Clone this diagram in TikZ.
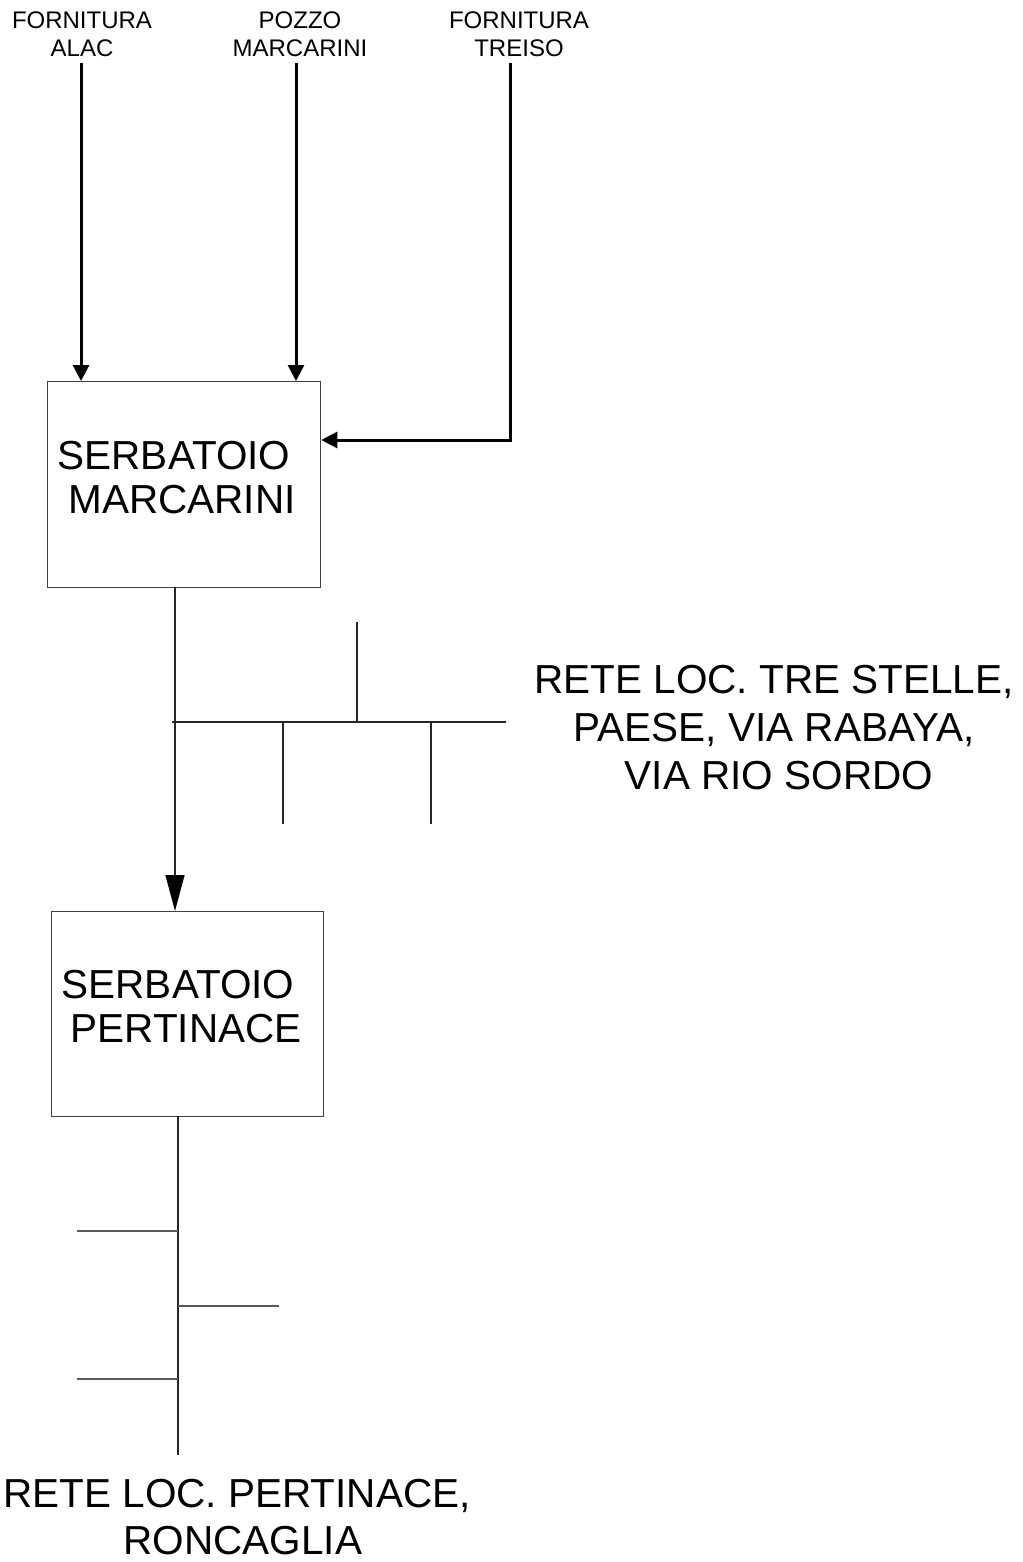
\documentclass[tikz,border=0pt]{standalone}
\usepackage{fontspec}
\setmainfont{Liberation Sans}
\usetikzlibrary{arrows.meta}
\begin{document}
\begin{tikzpicture}[x=1pt,y=-1pt,
  box/.style={draw=black!75,line width=1.3pt,inner sep=0pt,anchor=north west},
  toplbl/.style={font=\fontsize{24}{28}\selectfont,align=center,inner sep=0pt},
  boxtxt/.style={font=\fontsize{40.5}{44}\selectfont,align=center,inner sep=0pt},
  bigtxt/.style={font=\fontsize{40.5}{48}\selectfont,align=center,inner sep=0pt},
  bigtxtb/.style={font=\fontsize{40.5}{47}\selectfont,align=center,inner sep=0pt},
  feed/.style={line width=3pt,-{Triangle[length=16pt,width=16pt]}},
  flow/.style={line width=1.3pt,draw=black!85,-{Triangle[length=36pt,width=19pt,color=black]}},
  pipe/.style={line width=1.3pt,draw=black!85},
  pipeb/.style={line width=1.8pt,draw=black!65}
]
\useasboundingbox[fill=white] (0,0) rectangle (1022,1562);

% labels at the top
\node[toplbl] (alac) at (82,34.5) {FORNITURA\\ALAC};
\node[toplbl] (pozzo) at (300,34.5) {POZZO\\MARCARINI};
\node[toplbl] (treiso) at (519,34.5) {FORNITURA\\TREISO};

% tanks
\node[box,minimum width=273pt,minimum height=206pt] (m) at (47,381) {};
\node[boxtxt] (mt) at (178,477.5) {SERBATOIO\hspace*{8pt}\\\hspace*{8pt}MARCARINI};
\node[box,minimum width=272pt,minimum height=205pt] (p) at (51,911) {};
\node[boxtxt] (pt) at (182,1007) {SERBATOIO\hspace*{8pt}\\\hspace*{8pt}PERTINACE};

% feeds
\coordinate (alacS) at (81,63);
\coordinate (pozS) at (296,63);
\coordinate (treS) at (510,63);
\coordinate (treC) at (510,440);
\draw[feed] (alacS) -- (alacS |- m.north);
\draw[feed] (pozS) -- (pozS |- m.north);
\draw[feed] (treS) -- (treC) -- (treC -| m.east);

% Marcarini -> Pertinace
\coordinate (mo) at (175,587);
\draw[flow] (mo) -- (mo |- p.north);

% network 1
\coordinate (h1a) at (172,722);
\coordinate (h1b) at (506,722);
\coordinate (u1) at (357,622);
\coordinate (d1) at (283,824);
\coordinate (d2) at (431,824);
\draw[pipe] (h1a) -- (h1b);
\draw[pipe] (u1) -- (u1 |- h1a);
\draw[pipe] (d1) -- (d1 |- h1a);
\draw[pipe] (d2) -- (d2 |- h1a);
\node[bigtxt] (rete1) at (774,727.5) {RETE LOC. TRE STELLE,\\PAESE, VIA RABAYA,\hspace*{6pt}\\\hspace*{10pt}VIA RIO SORDO};

% network 2
\coordinate (po) at (178,1116);
\coordinate (pe) at (178,1455);
\coordinate (b1) at (77,1231);
\coordinate (b2) at (279,1306);
\coordinate (b3) at (77,1379);
\draw[pipe] (po) -- (pe);
\draw[pipeb] (b1) -- (b1 -| po);
\draw[pipeb] (b2) -- (b2 -| po);
\draw[pipeb] (b3) -- (b3 -| po);
\node[bigtxtb] (rete2) at (240,1517.5) {RETE LOC. PERTINACE,\hspace*{6pt}\\\hspace*{6pt}RONCAGLIA};
\end{tikzpicture}
\end{document}
